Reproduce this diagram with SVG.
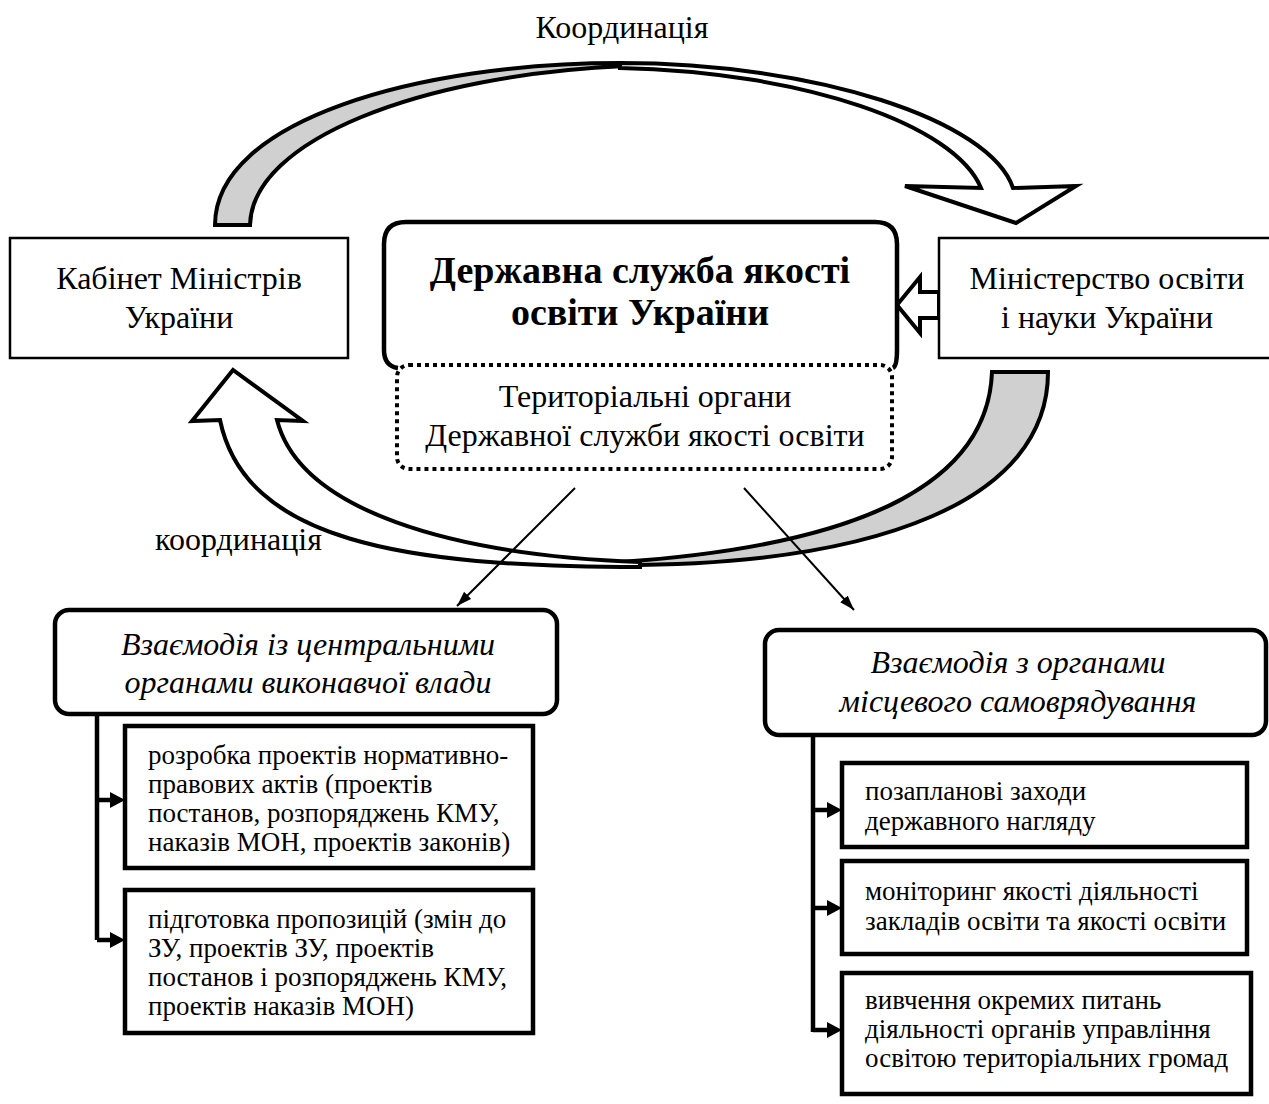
<svg xmlns="http://www.w3.org/2000/svg" width="1269" height="1104" viewBox="0 0 1269 1104">
<style>
text{font-family:"Liberation Serif","Times New Roman",serif;fill:#000}
.t32{font-size:32px}
.bold{font-size:38px;font-weight:bold}
.ital{font-size:32px;font-style:italic}
.box{font-size:27px}
.thin{fill:#fff;stroke:#000;stroke-width:2.5}
.thick{fill:#fff;stroke:#000;stroke-width:4.5}
.band{stroke:#000;stroke-width:4;stroke-linejoin:miter}
.conn{stroke:#000;stroke-width:2;fill:none}
.tree{stroke:#000;stroke-width:4.5;fill:none}
</style>
<defs>
<marker id="ah" markerUnits="userSpaceOnUse" markerWidth="16" markerHeight="12" refX="15" refY="5" orient="auto">
<path d="M0,0 L15,5 L0,10 Z" fill="#000"/>
</marker>
</defs>
<rect width="1269" height="1104" fill="#fff"/>

<g id="label-top"><text class="t32" x="622" y="38" text-anchor="middle">Координація</text></g>
<g id="label-bottom"><text class="t32" x="155" y="550">координація</text></g>

<g id="connectors">
<path class="band" fill="#d0d0d0" d="M215,225 C215,120 420,63 620,63 L625,66 C420,75 252,140 250,225 Z"/>
<path class="band" fill="#fff" d="M620,63 C815,63 990,120 1013,188 L1076,186 L1016,223 L905,186 L981,188 C955,125 805,72 620,68 Z"/>
<path class="band" fill="#d0d0d0" d="M620,565 C880,565 1048,500 1048,372 L992,372 C988,480 870,545 620,562 Z"/>
<path class="band" fill="#fff" d="M220,420 C245,540 400,567 640,567 L640,562 C450,555 300,510 277,420 L303,421 L233,370 L192,421 Z"/>
<path class="band" fill="#fff" d="M897,305 L920,277 L920,292 L939,292 L939,318 L920,318 L920,333 Z"/>
<line class="conn" x1="575" y1="488" x2="457" y2="606" marker-end="url(#ah)"/>
<line class="conn" x1="744" y1="488" x2="854" y2="610" marker-end="url(#ah)"/>
<line class="conn" x1="609" y1="348" x2="609" y2="367"/>
<line class="conn" x1="616" y1="348" x2="616" y2="367"/>
<path class="tree" d="M97,714 V940 M97,800 H113 M97,940 H113"/>
<path d="M110,792 L125,800 L110,808 Z M110,932 L125,940 L110,948 Z"/>
<path class="tree" d="M813,735 V1032 M813,810 H829 M813,908 H829 M813,1030 H829"/>
<path d="M827,802 L842,810 L827,818 Z M827,900 L842,908 L827,916 Z M827,1022 L842,1030 L827,1038 Z"/>
</g>

<g id="cabinet">
<rect class="thin" x="10" y="238" width="338" height="120"/>
<text class="t32" x="179" y="289" text-anchor="middle">Кабінет Міністрів</text>
<text class="t32" x="179" y="328" text-anchor="middle">України</text>
</g>

<g id="ministry">
<rect class="thin" x="939" y="238" width="340" height="120"/>
<text class="t32" x="1107" y="289" text-anchor="middle">Міністерство освіти</text>
<text class="t32" x="1107" y="328" text-anchor="middle">і науки України</text>
</g>

<g id="service">
<rect x="386" y="224" width="509" height="144" fill="#fff"/>
<path fill="none" stroke="#000" stroke-width="4.5" d="M398,368 Q384,366 384,350 L384,244 Q384,222 406,222 L875,222 Q897,222 897,244 L897,350 Q897,366 893,368"/>
<text class="bold" x="640" y="283" text-anchor="middle">Державна служба якості</text>
<text class="bold" x="640" y="325" text-anchor="middle">освіти України</text>
</g>

<g id="territorial">
<rect x="397" y="365" width="495" height="104" rx="12" fill="#fff" stroke="#000" stroke-width="4" stroke-dasharray="4 4"/>
<text class="t32" x="645" y="407" text-anchor="middle">Територіальні органи</text>
<text class="t32" x="645" y="446" text-anchor="middle">Державної служби якості освіти</text>
</g>

<g id="central">
<rect class="thick" x="55" y="610" width="502" height="104" rx="14"/>
<text class="ital" x="308" y="655" text-anchor="middle">Взаємодія із центральними</text>
<text class="ital" x="308" y="693" text-anchor="middle">органами виконавчої влади</text>
</g>

<g id="drafting">
<rect class="thick" x="125" y="726" width="408" height="142"/>
<text class="box" x="148" y="764">розробка проектів нормативно-</text>
<text class="box" x="148" y="793">правових актів (проектів</text>
<text class="box" x="148" y="822">постанов, розпоряджень КМУ,</text>
<text class="box" x="148" y="851">наказів МОН, проектів законів)</text>
</g>

<g id="proposals">
<rect class="thick" x="125" y="890" width="408" height="143"/>
<text class="box" x="148" y="928">підготовка пропозицій (змін до</text>
<text class="box" x="148" y="957">ЗУ, проектів ЗУ, проектів</text>
<text class="box" x="148" y="986">постанов і розпоряджень КМУ,</text>
<text class="box" x="148" y="1015">проектів наказів МОН)</text>
</g>

<g id="local">
<rect class="thick" x="765" y="630" width="501" height="105" rx="14"/>
<text class="ital" x="1018" y="673" text-anchor="middle">Взаємодія з органами</text>
<text class="ital" x="1018" y="712" text-anchor="middle">місцевого самоврядування</text>
</g>

<g id="unplanned">
<rect class="thick" x="842" y="763" width="405" height="84"/>
<text class="box" x="865" y="800">позапланові заходи</text>
<text class="box" x="865" y="830">державного нагляду</text>
</g>

<g id="monitoring">
<rect class="thick" x="842" y="861" width="405" height="93"/>
<text class="box" x="865" y="900">моніторинг якості діяльності</text>
<text class="box" x="865" y="930">закладів освіти та якості освіти</text>
</g>

<g id="study">
<rect class="thick" x="842" y="973" width="409" height="121"/>
<text class="box" x="865" y="1009">вивчення окремих питань</text>
<text class="box" x="865" y="1038">діяльності органів управління</text>
<text class="box" x="865" y="1067">освітою територіальних громад</text>
</g>
</svg>
